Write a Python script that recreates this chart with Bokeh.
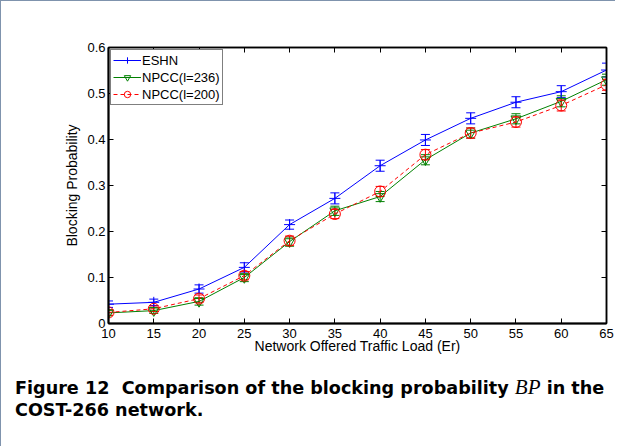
from bokeh.plotting import figure
from bokeh.models import (Range1d, LinearAxis, Legend, LegendItem, Whisker, TeeHead,
                          ColumnDataSource, FixedTicker, Div)
from bokeh.layouts import column
from bokeh.embed import file_html
from bokeh.resources import INLINE

loads = [10, 15, 20, 25, 30, 35, 40, 45, 50, 55, 60, 65]
eshn = [0.042, 0.046, 0.075, 0.122, 0.215, 0.272, 0.343, 0.399, 0.446, 0.481, 0.504, 0.551]
eshn_err = [0.007, 0.007, 0.009, 0.010, 0.010, 0.012, 0.012, 0.012, 0.012, 0.012, 0.013, 0.015]
npcc236 = [0.023, 0.028, 0.048, 0.100, 0.178, 0.245, 0.276, 0.356, 0.414, 0.445, 0.483, 0.530]
npcc236_err = [0.006, 0.006, 0.008, 0.009, 0.010, 0.010, 0.011, 0.011, 0.011, 0.011, 0.012, 0.012]
npcc200 = [0.024, 0.032, 0.054, 0.104, 0.180, 0.238, 0.287, 0.367, 0.414, 0.438, 0.474, 0.519]
npcc200_err = [0.006, 0.006, 0.008, 0.009, 0.010, 0.010, 0.011, 0.011, 0.011, 0.011, 0.012, 0.012]
x_ticks = [10, 15, 20, 25, 30, 35, 40, 45, 50, 55, 60, 65]
y_ticks = [0, 0.1, 0.2, 0.3, 0.4, 0.5, 0.6]

W, H = 613, 360
p = figure(width=W, height=H, output_backend="svg", toolbar_location=None,
           x_range=Range1d(10, 65), y_range=Range1d(0, 0.6),
           min_border_left=107, min_border_right=8, min_border_top=46, min_border_bottom=38)
p.xgrid.visible = False
p.ygrid.visible = False
p.outline_line_color = "black"
p.outline_line_width = 1.5
p.background_fill_color = "white"
p.border_fill_color = "white"

font = "Liberation Sans"
for ax in (p.xaxis[0], p.yaxis[0]):
    ax.major_tick_in = 5
    ax.major_tick_out = 0
    ax.minor_tick_line_color = None
    ax.axis_line_color = "black"
    ax.axis_line_width = 2
    ax.major_label_text_font = font
    ax.major_label_text_font_size = "13px"
    ax.major_label_text_color = "black"
    ax.axis_label_text_font = font
    ax.axis_label_text_font_size = "14px"
    ax.axis_label_text_font_style = "normal"
    ax.axis_label_text_color = "black"
p.xaxis[0].major_label_standoff = 5
p.yaxis[0].major_label_standoff = 3
p.xaxis[0].axis_label_standoff = -3
p.yaxis[0].axis_label_standoff = 4
p.xaxis[0].ticker = FixedTicker(ticks=x_ticks)
p.yaxis[0].ticker = FixedTicker(ticks=y_ticks)
p.xaxis[0].axis_label = "Network Offered Traffic Load (Er)"
p.yaxis[0].axis_label = "Blocking Probability"
p.yaxis[0].major_label_overrides = {0: "0"}

for side, tks in (("above", x_ticks), ("right", y_ticks)):
    ax = LinearAxis(ticker=FixedTicker(ticks=tks),
                    major_tick_in=5, major_tick_out=0, minor_tick_line_color=None,
                    major_label_overrides={t: "" for t in tks},
                    axis_line_color="black", axis_line_width=1.5)
    p.add_layout(ax, side)

series = [
    ("ESHN", eshn, eshn_err, "#0000ff", "solid", "cross"),
    ("NPCC(l=236)", npcc236, npcc236_err, "#008000", "solid", "inverted_triangle"),
    ("NPCC(l=200)", npcc200, npcc200_err, "#ff0000", "4 3", "circle"),
]
items = []
for name, ys, es, col, dash, mk in series:
    src = ColumnDataSource(dict(x=loads, y=ys,
                                lo=[a - b for a, b in zip(ys, es)],
                                hi=[a + b for a, b in zip(ys, es)]))
    w = Whisker(base="x", upper="hi", lower="lo", source=src, line_color=col, line_width=1,
                upper_head=TeeHead(size=9, line_color=col, line_width=1),
                lower_head=TeeHead(size=9, line_color=col, line_width=1))
    p.add_layout(w)
    ln = p.line("x", "y", source=src, line_color=col, line_width=1, line_dash=dash)
    sc = p.scatter("x", "y", source=src, marker=mk, size=11 if mk != "inverted_triangle" else 10,
                   line_color=col, fill_color=None, line_width=1)
    items.append(LegendItem(label=name, renderers=[ln, sc]))

leg = Legend(items=items, location="top_left", border_line_color="black", border_line_width=1,
             label_text_font=font, label_text_font_size="13px", label_text_color="black",
             glyph_width=28, glyph_height=16, label_height=16, spacing=1, padding=2,
             margin=2, label_standoff=1, background_fill_alpha=1)
p.add_layout(leg)

caption = Div(
    text=('<div style="font-family:\'DejaVu Sans\';font-weight:bold;font-size:17.6px;'
          'line-height:22px;white-space:nowrap;color:black">'
          'Figure 12&nbsp; Comparison of the blocking probability '
          '<span style="font-family:\'Liberation Serif\';font-style:italic;font-size:21px;'
          'font-weight:normal">BP</span>'
          ' in the<br>COST-266 network.</div>'),
    width=600, height=70, margin=(15, 0, 0, 14))

layout = column(p, caption, spacing=0)
layout.styles = {"border-left": "1px solid #7f93ad", "border-top": "1px solid #7f93ad"}

open("out.html", "w").write(file_html(layout, INLINE))
